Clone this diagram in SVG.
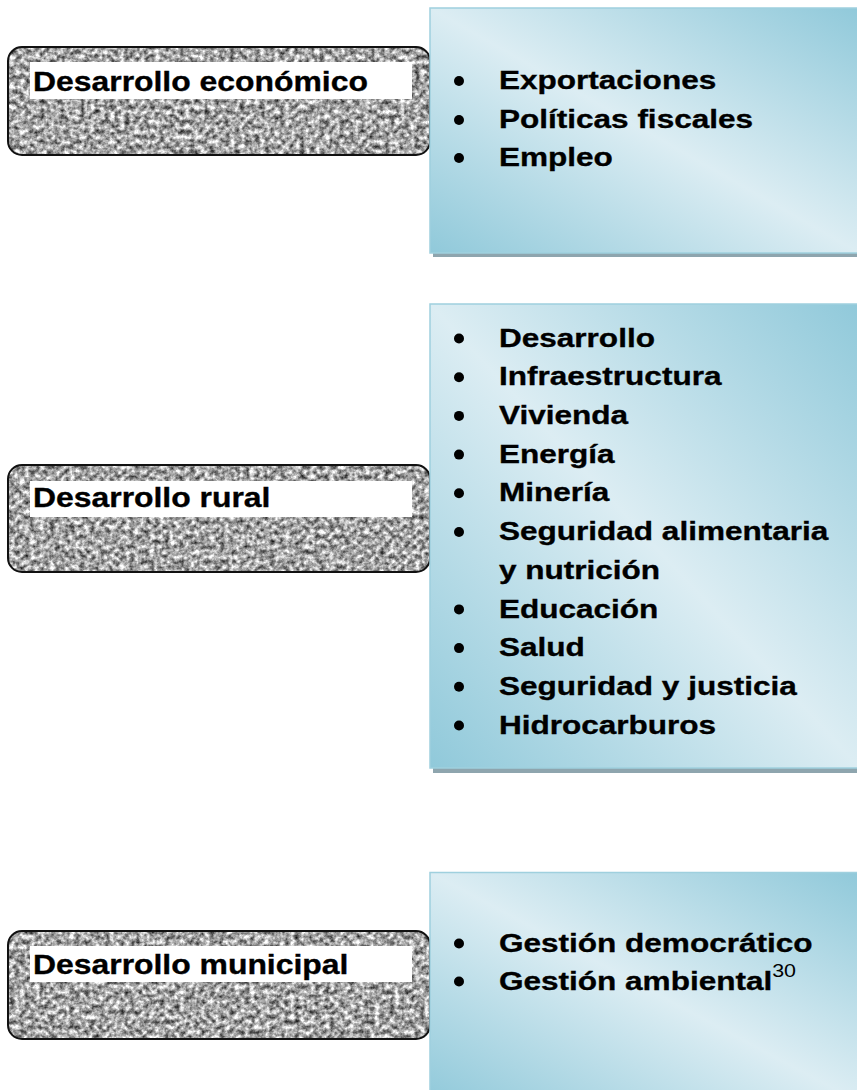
<svg xmlns="http://www.w3.org/2000/svg" width="857" height="1090" viewBox="0 0 857 1090">
  <style>
    .label { font-family: "Liberation Sans", Arial, sans-serif; font-weight: bold; font-size: 27.5px; fill: #000; stroke: #000; stroke-width: 0.35px; }
    .item { font-family: "Liberation Sans", Arial, sans-serif; font-weight: bold; font-size: 26.5px; fill: #000; stroke: #000; stroke-width: 0.35px; }
    .sup { font-weight: normal; font-size: 18px; stroke-width: 0; }
    .gframe { fill: none; stroke: #111; stroke-width: 2; }
    .gfill { fill: #000; filter: url(#granite); }
    .lbg { fill: #fff; }
    .panel { fill: url(#blue); stroke: #9fd0de; stroke-width: 1.5; }
    .shadow { fill: #8ea5ae; }
    .bullet { fill: #000; }
  </style>
  <defs>
    <filter id="granite" x="0" y="0" width="1" height="1" color-interpolation-filters="sRGB">
      <feTurbulence type="fractalNoise" baseFrequency="0.2" numOctaves="3" seed="11" result="n"/>
      <feColorMatrix in="n" type="matrix" values="1.35 0 0 0 -0.03  1.35 0 0 0 -0.03  1.35 0 0 0 -0.03  0 0 0 0 1" result="g"/>
      <feComposite in="g" in2="SourceAlpha" operator="in"/>
    </filter>
    <linearGradient id="blue" x1="0" y1="1" x2="1" y2="0">
      <stop offset="0" stop-color="#90c9da"/>
      <stop offset="0.5" stop-color="#dcedf3"/>
      <stop offset="1" stop-color="#90c9da"/>
    </linearGradient>
  </defs>

  <rect width="857" height="1090" fill="#fff"/>

  <!-- Left nodes -->
  <g id="node-economico">
    <rect class="gfill" x="8" y="47" width="422" height="108" rx="14"/>
    <rect class="gframe" x="8" y="47" width="422" height="108" rx="14"/>
    <rect class="lbg" x="30" y="62" width="382" height="37"/>
    <g transform="translate(33,0) scale(1.16,1)">
      <text class="label" x="0" y="91">Desarrollo económico</text>
    </g>
  </g>

  <g id="node-rural">
    <rect class="gfill" x="8" y="465" width="422" height="107" rx="14"/>
    <rect class="gframe" x="8" y="465" width="422" height="107" rx="14"/>
    <rect class="lbg" x="30" y="481" width="382" height="36"/>
    <g transform="translate(33,0) scale(1.16,1)">
      <text class="label" x="0" y="507.5">Desarrollo rural</text>
    </g>
  </g>

  <g id="node-municipal">
    <rect class="gfill" x="8" y="931" width="422" height="108" rx="14"/>
    <rect class="gframe" x="8" y="931" width="422" height="108" rx="14"/>
    <rect class="lbg" x="30" y="946" width="382" height="36"/>
    <g transform="translate(33,0) scale(1.16,1)">
      <text class="label" x="0" y="974">Desarrollo municipal</text>
    </g>
  </g>

  <!-- Right panels -->
  <g id="panel-economico">
    <rect class="shadow" x="433" y="12" width="430" height="245"/>
    <rect class="panel" x="430" y="8" width="430" height="245"/>
    <circle class="bullet" cx="459" cy="81" r="5"/>
    <circle class="bullet" cx="459" cy="120" r="5"/>
    <circle class="bullet" cx="459" cy="158" r="5"/>
    <g transform="translate(499,0) scale(1.19,1)">
      <text class="item" x="0" y="89.5">Exportaciones</text>
      <text class="item" x="0" y="128">Políticas fiscales</text>
      <text class="item" x="0" y="166.5">Empleo</text>
    </g>
  </g>

  <g id="panel-rural">
    <rect class="shadow" x="433" y="308" width="430" height="465"/>
    <rect class="panel" x="430" y="304" width="430" height="464"/>
    <circle class="bullet" cx="459" cy="338.5" r="5"/>
    <circle class="bullet" cx="459" cy="377.2" r="5"/>
    <circle class="bullet" cx="459" cy="415.9" r="5"/>
    <circle class="bullet" cx="459" cy="454.6" r="5"/>
    <circle class="bullet" cx="459" cy="493.3" r="5"/>
    <circle class="bullet" cx="459" cy="532" r="5"/>
    <circle class="bullet" cx="459" cy="609.4" r="5"/>
    <circle class="bullet" cx="459" cy="648.1" r="5"/>
    <circle class="bullet" cx="459" cy="686.8" r="5"/>
    <circle class="bullet" cx="459" cy="725.5" r="5"/>
    <g transform="translate(499,0) scale(1.19,1)">
      <text class="item" x="0" y="346.7">Desarrollo</text>
      <text class="item" x="0" y="385.4">Infraestructura</text>
      <text class="item" x="0" y="424.1">Vivienda</text>
      <text class="item" x="0" y="462.8">Energía</text>
      <text class="item" x="0" y="501.5">Minería</text>
      <text class="item" x="0" y="540.2">Seguridad alimentaria</text>
      <text class="item" x="0" y="578.9">y nutrición</text>
      <text class="item" x="0" y="617.6">Educación</text>
      <text class="item" x="0" y="656.3">Salud</text>
      <text class="item" x="0" y="695">Seguridad y justicia</text>
      <text class="item" x="0" y="733.7">Hidrocarburos</text>
    </g>
  </g>

  <g id="panel-municipal">
    <rect class="shadow" x="433" y="876" width="430" height="230"/>
    <rect class="panel" x="430" y="872.5" width="430" height="230"/>
    <circle class="bullet" cx="459" cy="943.5" r="5"/>
    <circle class="bullet" cx="459" cy="981.5" r="5"/>
    <g transform="translate(499,0) scale(1.19,1)">
      <text class="item" x="0" y="952">Gestión democrático</text>
      <text class="item" x="0" y="990">Gestión ambiental<tspan class="sup" dy="-13">30</tspan></text>
    </g>
  </g>

  <g id="connectors"/>
</svg>
